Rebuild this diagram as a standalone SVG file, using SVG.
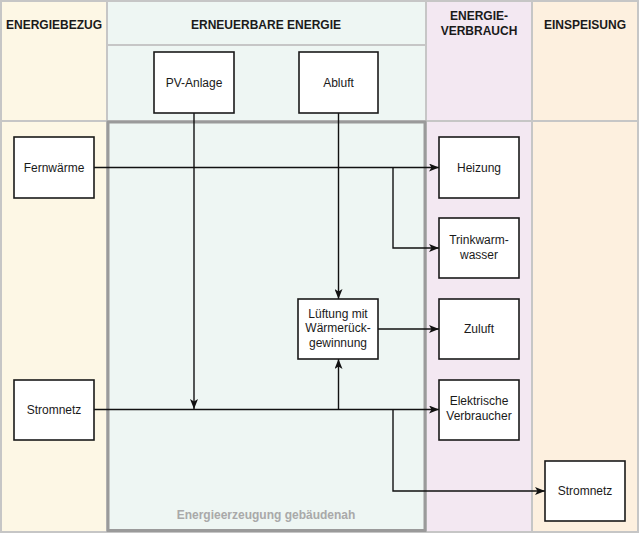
<svg xmlns="http://www.w3.org/2000/svg" width="640" height="534" viewBox="0 0 640 534">
  <style>
    .hdr { font-family: "Liberation Sans", Arial, sans-serif; font-size: 12px; font-weight: bold; fill: #1a1a1a; text-anchor: middle; }
    .lbl { font-family: "Liberation Sans", Arial, sans-serif; font-size: 12px; fill: #1a1a1a; text-anchor: middle; }
    .box { fill: #ffffff; stroke: #1a1a1a; stroke-width: 1.6; }
    .sep { stroke: #c6c6c6; stroke-width: 2; fill: none; }
    .conn { stroke: #111111; stroke-width: 1.4; fill: none; }
  </style>
  <defs>
    <marker id="arr" viewBox="0 0 10 8" refX="10" refY="4" markerWidth="10" markerHeight="8" markerUnits="userSpaceOnUse" orient="auto">
      <path d="M0,0 L10,4 L0,8 L2.5,4 Z" fill="#111111"/>
    </marker>
  </defs>

  <!-- lanes -->
  <g id="lanes">
    <rect x="1" y="1" width="106" height="531" fill="#fdf7e5"/>
    <rect x="107" y="1" width="319" height="531" fill="#eef6f3"/>
    <rect x="426" y="1" width="106" height="531" fill="#f3e8f2"/>
    <rect x="532" y="1" width="106" height="531" fill="#fdf0df"/>
    <line class="sep" x1="107" y1="1" x2="107" y2="532"/>
    <line class="sep" x1="426" y1="1" x2="426" y2="532"/>
    <line class="sep" x1="532" y1="1" x2="532" y2="532"/>
    <line class="sep" x1="107" y1="45" x2="426" y2="45"/>
    <line class="sep" x1="1" y1="121" x2="638" y2="121"/>
    <rect class="sep" x="1" y="1" width="637" height="531"/>
    <text class="hdr" x="54" y="29">ENERGIEBEZUG</text>
    <text class="hdr" x="266" y="29">ERNEUERBARE ENERGIE</text>
    <text class="hdr" x="479" y="20">ENERGIE-</text>
    <text class="hdr" x="479" y="35">VERBRAUCH</text>
    <text class="hdr" x="585" y="29">EINSPEISUNG</text>
  </g>

  <!-- building zone -->
  <g id="zone">
    <rect x="108" y="122" width="317" height="408.5" fill="none" stroke="#9a9a9a" stroke-width="3"/>
    <text class="hdr" x="266" y="519" style="fill:#a9a9a9">Energieerzeugung gebäudenah</text>
  </g>

  <!-- connectors -->
  <g id="connectors">
    <line class="conn" x1="94" y1="167.5" x2="439" y2="167.5" marker-end="url(#arr)"/>
    <polyline class="conn" points="393,167.5 393,248 439,248" marker-end="url(#arr)"/>
    <line class="conn" x1="194" y1="113" x2="194" y2="409" marker-end="url(#arr)"/>
    <line class="conn" x1="338.5" y1="113" x2="338.5" y2="299" marker-end="url(#arr)"/>
    <line class="conn" x1="94" y1="409.5" x2="439" y2="409.5" marker-end="url(#arr)"/>
    <line class="conn" x1="338.5" y1="409.5" x2="338.5" y2="359" marker-end="url(#arr)"/>
    <line class="conn" x1="378" y1="329" x2="439" y2="329" marker-end="url(#arr)"/>
    <polyline class="conn" points="393,409.5 393,491 545,491" marker-end="url(#arr)"/>
  </g>

  <g id="pv">
    <rect class="box" x="154" y="52" width="80" height="61"/>
    <text class="lbl" x="194" y="86.5">PV-Anlage</text>
  </g>
  <g id="abluft">
    <rect class="box" x="299" y="52" width="79" height="61"/>
    <text class="lbl" x="338.5" y="86.5">Abluft</text>
  </g>
  <g id="fernwaerme">
    <rect class="box" x="14" y="137" width="80" height="61"/>
    <text class="lbl" x="54" y="171.5">Fernwärme</text>
  </g>
  <g id="stromnetz-in">
    <rect class="box" x="14" y="380" width="80" height="60"/>
    <text class="lbl" x="54" y="414">Stromnetz</text>
  </g>
  <g id="heizung">
    <rect class="box" x="439" y="137" width="80" height="61"/>
    <text class="lbl" x="479" y="171.5">Heizung</text>
  </g>
  <g id="trinkwarmwasser">
    <rect class="box" x="439" y="218" width="80" height="60"/>
    <text class="lbl" x="479" y="243.5">Trinkwarm-</text>
    <text class="lbl" x="479" y="258.5">wasser</text>
  </g>
  <g id="lueftung">
    <rect class="box" x="298" y="299" width="80" height="60"/>
    <text class="lbl" x="338" y="317.5">Lüftung mit</text>
    <text class="lbl" x="338" y="332">Wärmerück-</text>
    <text class="lbl" x="338" y="346.5">gewinnung</text>
  </g>
  <g id="zuluft">
    <rect class="box" x="439" y="299" width="80" height="60"/>
    <text class="lbl" x="479" y="333">Zuluft</text>
  </g>
  <g id="elektrische-verbraucher">
    <rect class="box" x="439" y="380" width="80" height="60"/>
    <text class="lbl" x="479" y="405">Elektrische</text>
    <text class="lbl" x="479" y="420">Verbraucher</text>
  </g>
  <g id="stromnetz-out">
    <rect class="box" x="545" y="461" width="80" height="60"/>
    <text class="lbl" x="585" y="495">Stromnetz</text>
  </g>
</svg>
